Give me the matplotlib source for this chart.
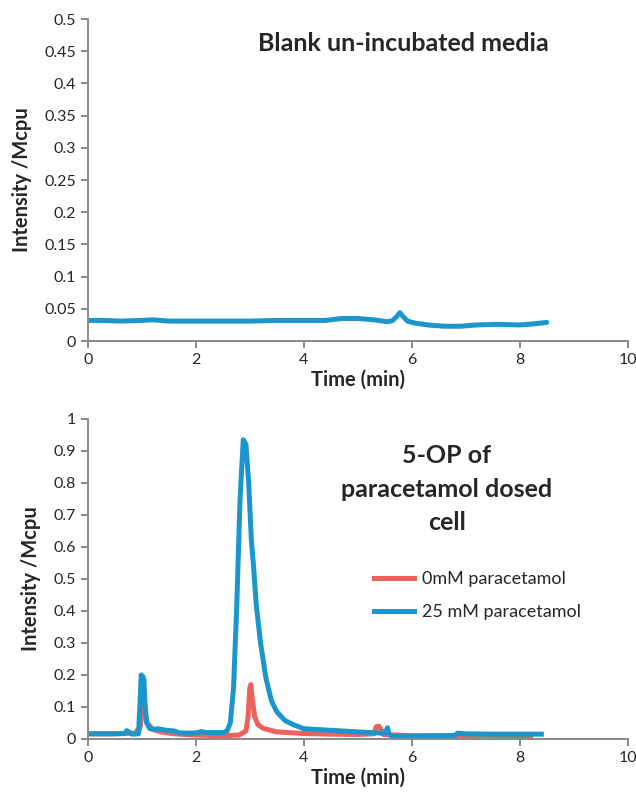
import numpy as np
import matplotlib.pyplot as plt
from matplotlib.ticker import FuncFormatter

# top panel: blank media trace
blank_t = [0, 0.3, 0.6, 1.0, 1.2, 1.5, 2.0, 2.5, 3.0, 3.5, 4.0, 4.4, 4.7, 5.0,
           5.3, 5.55, 5.65, 5.72, 5.78, 5.84, 5.92, 6.05, 6.3, 6.6, 6.9, 7.2,
           7.6, 8.0, 8.3, 8.5]
blank_y = [0.032, 0.032, 0.031, 0.032, 0.033, 0.031, 0.031, 0.031, 0.031, 0.032,
           0.032, 0.032, 0.035, 0.035, 0.033, 0.030, 0.032, 0.038, 0.044, 0.038,
           0.031, 0.028, 0.025, 0.023, 0.023, 0.025, 0.026, 0.025, 0.027, 0.029]

# bottom panel: 0 mM paracetamol
zero_t = [0, 0.5, 0.88, 0.92, 0.96, 0.99, 1.01, 1.03, 1.06, 1.1, 1.2, 1.35, 1.6,
          2.0, 2.5, 2.8, 2.93, 2.97, 3.0, 3.02, 3.05, 3.09, 3.15, 3.25, 3.5, 4.0,
          4.5, 5.0, 5.3, 5.34, 5.39, 5.43, 5.48, 6.0, 7.0, 8.2]
zero_y = [0.016, 0.016, 0.018, 0.028, 0.03, 0.06, 0.13, 0.14, 0.09, 0.05, 0.03,
          0.022, 0.016, 0.012, 0.01, 0.012, 0.025, 0.07, 0.16, 0.17, 0.12, 0.07,
          0.045, 0.033, 0.022, 0.017, 0.015, 0.014, 0.016, 0.038, 0.04, 0.03,
          0.014, 0.01, 0.009, 0.008]

# bottom panel: 25 mM paracetamol
dose_t = [0, 0.4, 0.68, 0.72, 0.76, 0.82, 0.94, 0.97, 0.99, 1.02, 1.04, 1.06,
          1.09, 1.15, 1.25, 1.3, 1.45, 1.6, 1.7, 1.9, 2.05, 2.1, 2.2, 2.5, 2.58,
          2.64, 2.7, 2.76, 2.82, 2.88, 2.93, 2.98, 3.03, 3.07, 3.12, 3.2, 3.3,
          3.4, 3.5, 3.65, 3.8, 4.0, 4.5, 5.0, 5.45, 5.52, 5.55, 5.58, 5.63, 5.8,
          6.5, 6.8, 6.85, 7.0, 7.5, 8.0, 8.4]
dose_y = [0.016, 0.016, 0.017, 0.026, 0.022, 0.015, 0.016, 0.12, 0.2, 0.195,
          0.185, 0.11, 0.05, 0.032, 0.03, 0.032, 0.027, 0.025, 0.019, 0.018,
          0.02, 0.023, 0.02, 0.02, 0.025, 0.05, 0.16, 0.42, 0.75, 0.935, 0.92,
          0.8, 0.62, 0.54, 0.42, 0.3, 0.19, 0.12, 0.085, 0.058, 0.045, 0.032,
          0.027, 0.022, 0.018, 0.022, 0.035, 0.015, 0.008, 0.009, 0.01, 0.011,
          0.018, 0.016, 0.015, 0.015, 0.015]

blue = '#1a96cc'
red = '#ef615c'
grey = '#898989'
ink = '#262626'

plt.rcParams['font.family'] = ['Lato', 'DejaVu Sans']

fig = plt.figure(figsize=(6.36, 7.95), dpi=100)
ax1 = fig.add_axes([0.138, 0.571, 0.849, 0.405])
ax2 = fig.add_axes([0.138, 0.0705, 0.849, 0.4025])


def tidy(ax, ymax, ystep):
    ax.set_xlim(0, 10)
    ax.set_ylim(0, ymax)
    ax.set_xticks(np.arange(0, 11, 2))
    ax.set_yticks(np.arange(0, ymax + ystep / 2, ystep))
    ax.yaxis.set_major_formatter(FuncFormatter(lambda v, p: '%g' % round(v, 3)))
    for s in ['top', 'right']:
        ax.spines[s].set_visible(False)
    for s in ['left', 'bottom']:
        ax.spines[s].set_color(grey)
        ax.spines[s].set_linewidth(1.4)
    ax.tick_params(direction='out', color=grey, width=1.4, length=5,
                   labelsize=11.5, labelcolor=ink)
    ax.set_xlabel('Time (min)', fontsize=14.5, fontweight='bold', labelpad=2,
                  color=ink)
    ax.set_ylabel('Intensity /Mcpu', fontsize=14.5, fontweight='bold',
                  labelpad=9, color=ink)


ax1.plot(blank_t, blank_y, color=blue, lw=3.6, solid_capstyle='round')
tidy(ax1, 0.5, 0.05)
ax1.text(0.585, 0.925, 'Blank un-incubated media', transform=ax1.transAxes,
         ha='center', va='center', fontsize=18, fontweight='bold', color=ink)

ax2.plot(zero_t, zero_y, color=red, lw=3.6, label='0mM paracetamol')
ax2.plot(dose_t, dose_y, color=blue, lw=3.6, label='25 mM paracetamol')
tidy(ax2, 1.0, 0.1)
ax2.text(0.665, 0.78, '5-OP of\nparacetamol dosed\ncell', transform=ax2.transAxes,
         ha='center', va='center', fontsize=18, fontweight='bold',
         color=ink, linespacing=1.55)
leg = ax2.legend(loc='upper left', bbox_to_anchor=(0.53, 0.525), frameon=False,
                 fontsize=13, handlelength=2.2, handletextpad=0.45,
                 labelspacing=0.95, borderpad=0, borderaxespad=0)
for t in leg.get_texts():
    t.set_color(ink)

plt.savefig('out.png', dpi=100)
